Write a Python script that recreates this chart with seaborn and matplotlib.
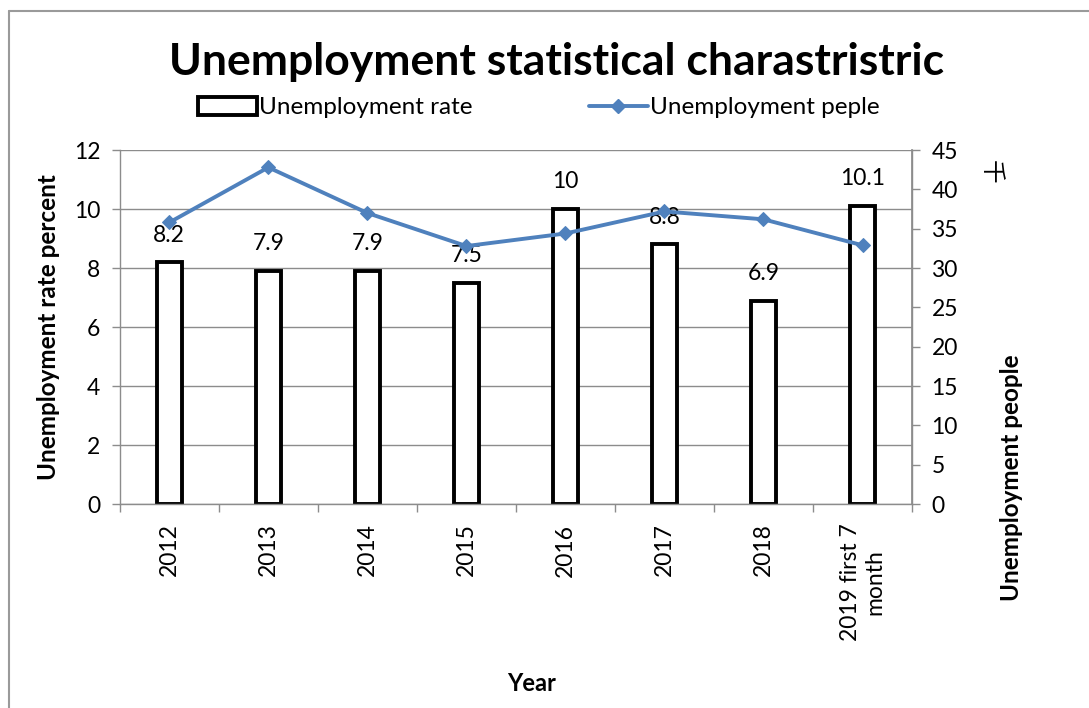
import numpy as np
import pandas as pd
import matplotlib
matplotlib.use("Agg")
import matplotlib.pyplot as plt
from matplotlib.lines import Line2D
from matplotlib.patches import Patch
import seaborn as sns

# Unemployment figures by year
years = ["2012", "2013", "2014", "2015", "2016", "2017", "2018", "2019 first 7\nmonth"]
rate_percent = [8.2, 7.9, 7.9, 7.5, 10, 8.8, 6.9, 10.1]
people_thousand = [35.8, 42.8, 37.0, 32.8, 34.4, 37.2, 36.2, 32.9]

sns.set_theme(style="white")
plt.rcParams["font.family"] = ["Lato", "Noto Sans CJK SC", "DejaVu Sans"]
plt.rcParams.update({"text.color": "black", "axes.labelcolor": "black",
                     "xtick.color": "black", "ytick.color": "black"})

GRID = "#8c8c8c"
LINE_BLUE = "#4f81bd"

df = pd.DataFrame({"year": years, "rate": rate_percent, "people": people_thousand})

fig = plt.figure(figsize=(10.89, 7.08), dpi=100)
ax = fig.add_axes([0.110, 0.288, 0.7275, 0.500])

sns.barplot(data=df, x="year", y="rate", ax=ax, width=0.25,
            color="white", edgecolor="black", linewidth=2.8, saturation=1)

ax.set_ylim(0, 12)
ax.set_yticks(np.arange(0, 13, 2))
ax.set_xlim(-0.5, len(years) - 0.5)
ax.yaxis.grid(True, color=GRID, linewidth=1)
ax.set_axisbelow(True)
ax.spines["top"].set_visible(False)
for side in ["left", "bottom", "right"]:
    ax.spines[side].set_color(GRID)
    ax.spines[side].set_linewidth(1)

# category boundary ticks on the x axis
ax.set_xticks(np.arange(len(years)))
ax.set_xticklabels(years, rotation=90, fontsize=16.5, va="top", ha="center",
                   multialignment="center")
ax.set_xticks(np.arange(-0.5, len(years), 1), minor=True)
ax.tick_params(axis="x", which="major", length=0, pad=14, labelcolor="black")
ax.tick_params(axis="x", which="minor", length=6, color=GRID, width=1, bottom=True)
ax.tick_params(axis="y", length=6, color=GRID, width=1, labelsize=16.5, left=True, pad=8,
               labelcolor="black")

ax.set_xlabel("Year", fontsize=17, fontweight="bold")
ax.xaxis.set_label_coords(0.52, -0.475)
ax.set_ylabel("Unemployment rate percent", fontsize=17.5, fontweight="bold", labelpad=10)

# value labels above each bar
for i, v in enumerate(rate_percent):
    ax.annotate(f"{v:g}", (i, v), xytext=(0, 12), textcoords="offset points",
                ha="center", va="bottom", fontsize=16.5, color="black")

# second series on the right axis
ax2 = ax.twinx()
sns.lineplot(x=np.arange(len(years)), y=people_thousand, ax=ax2, color=LINE_BLUE,
             linewidth=2.8, marker="D", markersize=7.5, markeredgecolor=LINE_BLUE)
ax2.set_ylim(0, 45)
ax2.set_yticks(np.arange(0, 46, 5))
ax2.tick_params(axis="y", length=6, color=GRID, width=1, labelsize=16.5, right=True, pad=8,
                labelcolor="black")
ax2.grid(False)
for side in ["top", "left", "bottom"]:
    ax2.spines[side].set_visible(False)
ax2.spines["right"].set_color(GRID)
ax2.set_ylabel("")

fig.text(0.929, 0.325, "Unemployment people", rotation=90, fontsize=17.5,
         fontweight="bold", ha="center", va="center", color="black")
fig.text(0.909, 0.757, "千", rotation=-90, fontsize=17, ha="center", va="center",
         color="black", family=["Noto Sans CJK SC", "DejaVu Sans"])

fig.text(0.511, 0.913, "Unemployment statistical charastristric", fontsize=32,
         fontweight="bold", ha="center", va="center", color="black")

handles = [Patch(facecolor="white", edgecolor="black", linewidth=2.8),
           Line2D([0], [0], color=LINE_BLUE, linewidth=2.8, marker="D", markersize=7.5)]
fig.legend(handles, ["Unemployment rate", "Unemployment peple"], loc="center",
           bbox_to_anchor=(0.495, 0.848), ncol=2, frameon=False, fontsize=17.5,
           handlelength=2.4, handleheight=0.8, handletextpad=0.1, columnspacing=4.8,
           labelcolor="black")

# outer frame lines of the chart area
fig.add_artist(Line2D([0.0085, 0.0085], [0.0, 0.984], color="#9a9a9a", linewidth=1.5,
                      transform=fig.transFigure))
fig.add_artist(Line2D([0.0085, 1.0], [0.984, 0.984], color="#9a9a9a", linewidth=1.5,
                      transform=fig.transFigure))

fig.savefig("out.png", dpi=100, facecolor="white")
